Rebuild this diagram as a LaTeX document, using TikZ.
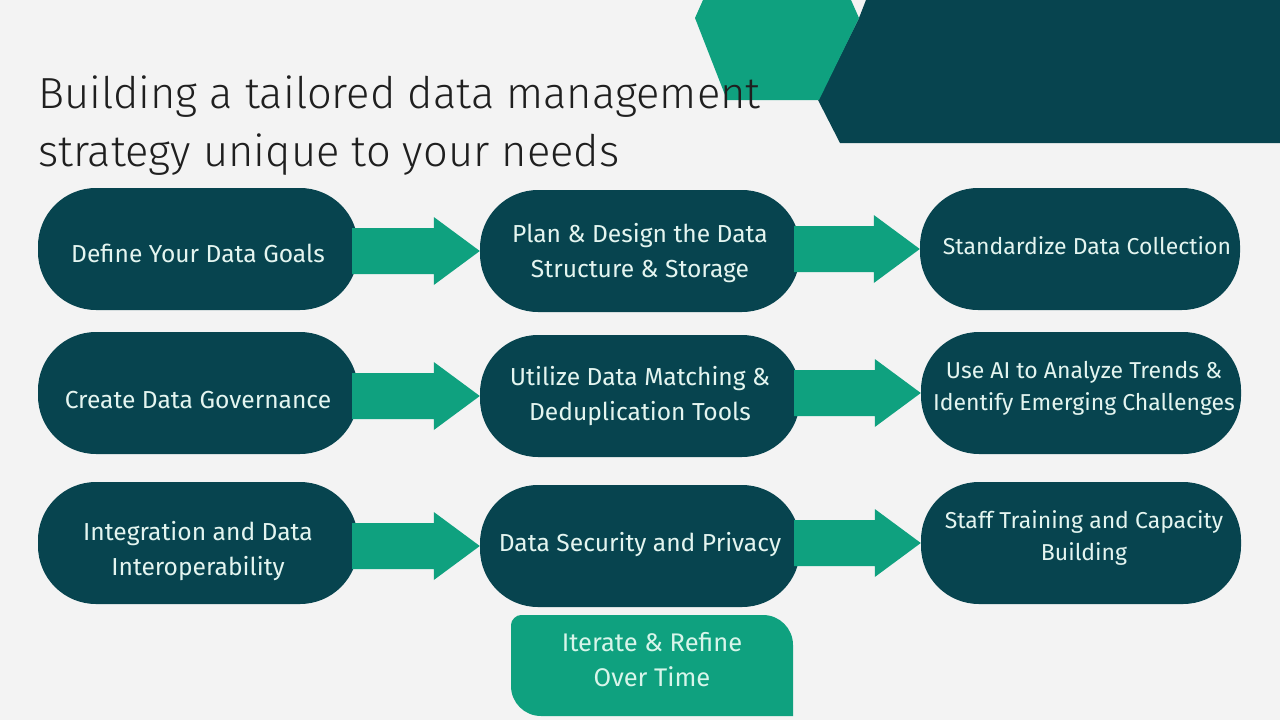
\documentclass[tikz,border=0pt]{standalone}
\usepackage{fontspec}
\setmainfont{Fira Sans}
\newfontfamily\titlefont{Fira Sans Light}
\usetikzlibrary{calc}
\definecolor{dteal}{HTML}{07444F}
\definecolor{mgreen}{HTML}{0FA17F}
\definecolor{bgc}{HTML}{F3F3F3}
\definecolor{ltxt}{HTML}{E4F5F0}
\definecolor{mint}{HTML}{D8F5EA}
\newcommand\flowarrow[2]{%
  \fill[mgreen] ($(#1.east |- #2.west)+(-6,-23)$) -- ($(#2.west)+(-46,-23)$) --
    ($(#2.west)+(-46,-34)$) -- (#2.west) -- ($(#2.west)+(-46,34)$) --
    ($(#2.west)+(-46,23)$) -- ($(#1.east |- #2.west)+(-6,23)$) -- cycle;}
\newcommand\twoline[2]{\begin{tabular}{@{}c@{}}#1\\#2\end{tabular}}
\newcommand\nudge[2]{\raisebox{#1}[\height][\depth]{#2}}
\begin{document}
\begin{tikzpicture}[x=1pt,y=-1pt,
  stepbox/.style={fill=dteal, text=ltxt, minimum width=320pt, minimum height=122pt,
    rounded corners=58pt, align=center, inner sep=0pt, font=\fontsize{24.6}{35}\selectfont},
  rightbox/.style={stepbox, font=\fontsize{23}{32}\selectfont},
  titletext/.style={anchor=base west, align=left, inner sep=0pt, text=black!88,
    font=\titlefont\fontsize{43.5}{58}\selectfont},
  iterbox/.style={text=mint, align=center, inner sep=0pt, font=\fontsize{25.5}{35}\selectfont}]
\fill[bgc] (0,0) rectangle (1280,720);
\useasboundingbox (0,0) rectangle (1280,720);
% decorative shapes, top right
\fill[dteal] (866,0) -- (1280,0) -- (1280,143) -- (840,143) -- (818,100) -- (859,18) -- cycle;
\fill[mgreen] (695,18) -- (703,0) -- (851,0) -- (859,18) -- (819,100) -- (727,100) -- cycle;
% title
\node[titletext] (title) at (38,166) {Building a tailored data management\\strategy unique to your needs};
% boxes
\node[stepbox] (b1) at (198,249) {\nudge{-4pt}{Define Your Data Goals}};
\node[stepbox] (b2) at (640,251) {\nudge{-2pt}{\twoline{Plan \& Design the Data}{Structure \& Storage}}};
\node[rightbox] (b3) at (1080,249) {\hspace*{14pt}\nudge{3pt}{Standardize Data Collection}};
\node[stepbox] (b4) at (198,393) {\nudge{-7pt}{Create Data Governance}};
\node[stepbox] (b5) at (640,396) {\twoline{Utilize Data Matching \&}{Deduplication Tools}};
\node[rightbox] (b6) at (1081,393) {\hspace*{6pt}\nudge{5pt}{\twoline{Use AI to Analyze Trends \&}{Identify Emerging Challenges}}};
\node[stepbox] (b7) at (198,543) {\nudge{-8pt}{\twoline{Integration and Data}{Interoperability}}};
\node[stepbox] (b8) at (640,546) {\nudge{1pt}{Data Security and Privacy}};
\node[rightbox] (b9) at (1081,543) {\hspace*{6pt}\nudge{5pt}{\twoline{Staff Training and Capacity}{Building}}};
% arrows
\flowarrow{b1}{b2}
\flowarrow{b2}{b3}
\flowarrow{b4}{b5}
\flowarrow{b5}{b6}
\flowarrow{b7}{b8}
\flowarrow{b8}{b9}
% iterate box
\fill[mgreen] (511,625) .. controls (511,619.5) and (516.5,615) .. (521,615)
  -- (763,615) .. controls (779.6,615) and (793,628.4) .. (793,645)
  -- (793,716) -- (541,716) .. controls (524.4,716) and (511,702.6) .. (511,686) -- cycle;
\node[iterbox] (iter) at (652,662) {\twoline{Iterate \& Refine}{Over Time}};
\end{tikzpicture}
\end{document}
